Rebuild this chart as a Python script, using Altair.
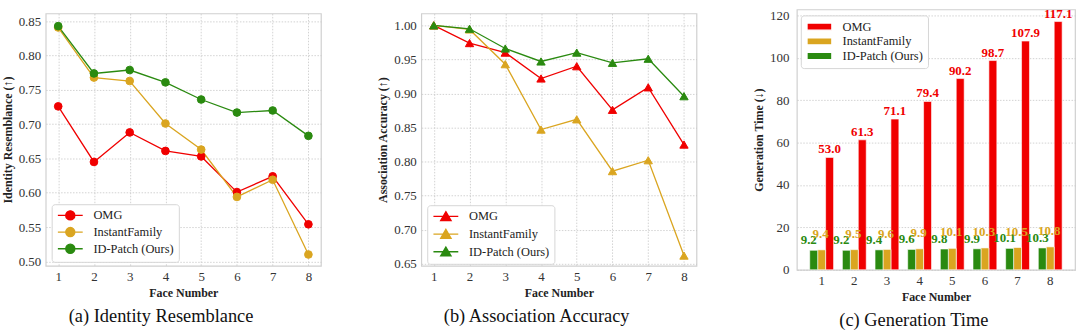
import altair as alt
import pandas as pd

faces = [1, 2, 3, 4, 5, 6, 7, 8]
series = ["OMG", "InstantFamily", "ID-Patch (Ours)"]
colors = ["#f00000", "#daa520", "#2a8a10"]

# (a) Identity Resemblance
ir_omg = [0.726, 0.645, 0.688, 0.661, 0.653, 0.601, 0.624, 0.554]
ir_if = [0.841, 0.768, 0.763, 0.701, 0.663, 0.594, 0.619, 0.510]
ir_id = [0.843, 0.774, 0.779, 0.761, 0.736, 0.717, 0.720, 0.683]

# (b) Association Accuracy
aa_omg = [1.000, 0.974, 0.960, 0.922, 0.940, 0.876, 0.909, 0.825]
aa_if = [1.000, 0.994, 0.943, 0.847, 0.862, 0.786, 0.802, 0.662]
aa_id = [1.000, 0.995, 0.966, 0.947, 0.960, 0.945, 0.951, 0.896]

# (c) Generation Time
gt_omg = [53.0, 61.3, 71.1, 79.4, 90.2, 98.7, 107.9, 117.1]
gt_if = [9.4, 9.5, 9.6, 9.9, 10.1, 10.3, 10.5, 10.8]
gt_id = [9.2, 9.2, 9.4, 9.6, 9.8, 9.9, 10.1, 10.3]

SERIF = "Liberation Serif, Times New Roman, serif"


def long_df(vals):
    rows = []
    for s, v in zip(series, vals):
        for f, y in zip(faces, v):
            rows.append({"face": f, "series": s, "value": y})
    return pd.DataFrame(rows)


df_a = long_df([ir_omg, ir_if, ir_id])
df_b = long_df([aa_omg, aa_if, aa_id])
df_c = long_df([gt_omg, gt_if, gt_id])

# legend symbol paths (scaled by 5 px per unit with symbolSize=100)
PATH_CIRCLE = "M-2.5,0H2.5M0.92,0A0.92,0.92,0,1,1,-0.92,0A0.92,0.92,0,1,1,0.92,0Z"
PATH_TRI = "M-2.5,0H2.5M0,-0.95L1.05,0.85L-1.05,0.85Z"
PATH_RECT = "M-2.5,-0.72H2.5V0.72H-2.5Z"


def legend(path, x, y):
    return alt.Legend(
        title=None, orient="none", legendX=x, legendY=y,
        symbolType=path, symbolSize=100, symbolStrokeWidth=1.3,
        symbolOffset=7.5, labelOffset=17,
        labelFont=SERIF, labelFontSize=12.5, labelColor="#222",
        rowPadding=1.8, padding=5,
        strokeColor="#d6d6d6", fillColor="white", cornerRadius=3,
    )


def caption_title(text):
    return alt.Title(text, orient="bottom", frame="bounds", anchor="middle")


def line_panel(df, ytitle, ydomain, yticks, shape, path, size, caption, ly):
    sc = alt.Scale(domain=series, range=colors)
    lg = legend(path, 6, ly)
    base = alt.Chart(df).encode(
        x=alt.X("face:Q", scale=alt.Scale(domain=[0.65, 8.35], nice=False, zero=False),
                axis=alt.Axis(values=faces, format="d", title="Face Number")),
        y=alt.Y("value:Q", scale=alt.Scale(domain=ydomain, nice=False, zero=False),
                axis=alt.Axis(values=yticks, format=".2f", title=ytitle)),
    )
    lines = base.mark_line(strokeWidth=1.3).encode(
        stroke=alt.Stroke("series:N", scale=sc, legend=lg, sort=series))
    pts = base.mark_point(filled=True, shape=shape, size=size, opacity=1, strokeWidth=1).encode(
        fill=alt.Fill("series:N", scale=sc, legend=lg, sort=series),
        stroke=alt.Stroke("series:N", scale=sc, legend=lg, sort=series),
    )
    return alt.layer(lines, pts).properties(
        width=277, height=254, title=caption_title(caption))


chart_a = line_panel(df_a, "Identity Resemblance (↑)", [0.4935, 0.8615],
                     [0.50, 0.55, 0.60, 0.65, 0.70, 0.75, 0.80, 0.85],
                     "circle", PATH_CIRCLE, 60, "(a) Identity Resemblance", 192)
chart_b = line_panel(df_b, "Association Accuracy (↑)", [0.647, 1.0175],
                     [0.65, 0.70, 0.75, 0.80, 0.85, 0.90, 0.95, 1.00],
                     "triangle-up", PATH_TRI, 70, "(b) Association Accuracy", 193)

# (c) bars
sc_c = alt.Scale(domain=series, range=colors)
base_c = alt.Chart(df_c).encode(
    x=alt.X("face:O", scale=alt.Scale(paddingInner=0.27, paddingOuter=0.395),
            axis=alt.Axis(title="Face Number", labelAngle=0)),
    xOffset=alt.XOffset("series:N", scale=alt.Scale(domain=[series[2], series[1], series[0]])),
    y=alt.Y("value:Q", scale=alt.Scale(domain=[0, 122.8], nice=False),
            axis=alt.Axis(values=[0, 20, 40, 60, 80, 100, 120], format="d",
                          title="Generation Time (↓)", labelPadding=8)),
)
bars = base_c.mark_bar(stroke="white", strokeWidth=0.6).encode(
    fill=alt.Fill("series:N", scale=sc_c, legend=legend(PATH_RECT, 4, 6), sort=series))


def labels(name, color, dx, dy):
    return base_c.transform_filter(alt.datum.series == name).mark_text(
        baseline="bottom", font=SERIF, fontSize=13, fontWeight="bold",
        color=color, dx=dx, dy=dy,
    ).encode(text=alt.Text("value:Q", format=".1f"))


chart_c = alt.layer(
    bars,
    labels(series[0], colors[0], 0, -1),
    labels(series[2], colors[2], -5, -3),
    labels(series[1], colors[1], -1, -9),
).properties(width=280, height=262, title=caption_title("(c) Generation Time"))

chart = alt.hconcat(chart_a, chart_b, chart_c, spacing=54, center=True).resolve_scale(
    fill="independent", stroke="independent", x="independent", y="independent"
).resolve_legend(fill="independent", stroke="independent").configure(
    background="white", font=SERIF,
    padding={"left": 0, "top": 6, "right": 4, "bottom": 2},
).configure_view(
    stroke="#d0d0d0", strokeWidth=1.2
).configure_axis(
    domain=False, ticks=False,
    labelFont=SERIF, labelFontSize=13, labelColor="#333", labelPadding=5,
    titleFont=SERIF, titleFontSize=12, titleFontWeight="bold", titleColor="#222",
    titlePadding=4,
    gridColor="#c8c8c8", gridDash=[1.5, 1.5], gridWidth=0.8,
).configure_title(
    font=SERIF, fontSize=18.5, fontWeight="normal", color="#111", offset=9
)

chart.save("out.html", embed_options={"renderer": "svg", "actions": False})
